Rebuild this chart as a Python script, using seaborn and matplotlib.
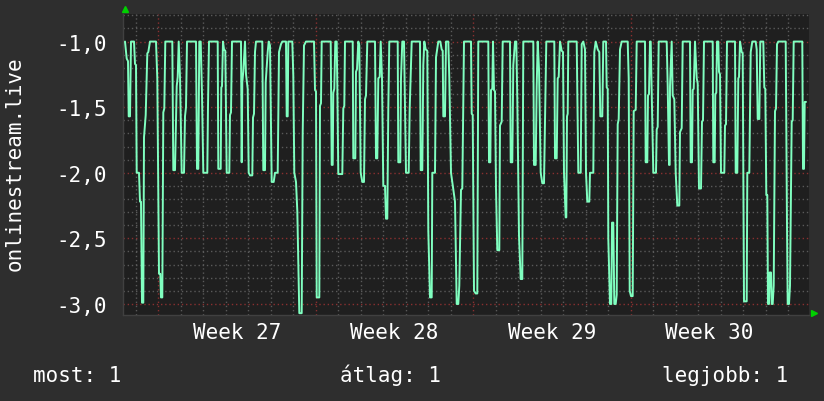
import matplotlib
matplotlib.use("Agg")
import matplotlib.pyplot as plt
import matplotlib.transforms as mtransforms
import numpy as np
import pandas as pd
import seaborn as sns

# one step of the series is about 64 minutes (22.5 steps per day)
STEP_H = 24 / 22.5

# sample step index and value
t_step = [
    3, 4.7, 6, 6.7, 8, 9, 12, 13, 14, 14.7, 17, 18, 19, 20, 21.3, 22, 23.7, 25.3, 26.3, 28,
    34, 35.3, 37, 38.3, 39, 40.3, 41.3, 42.3, 43.3, 50.3, 51.3, 53, 54.7, 55.7, 56.7, 58,
    59.7, 62, 63, 64, 65, 74, 75, 76.3, 77.3, 78.7, 80, 81.3, 85.3, 86, 87,
    95.7, 96.3, 98.7, 99.3, 100, 101, 102, 103.3, 104.7, 107.3, 108, 109, 110, 119, 119.7,
    120.3, 121.3, 123, 124, 125.7, 126.7, 128, 130.3, 131, 132, 133, 134, 140.3, 141.3, 143,
    143.7, 145.7, 146.7, 148, 149.7, 151.7, 153, 155.7, 157, 159, 160.3, 164, 164.7, 165.7,
    166.3, 170.3, 171.3, 172.3,
    174, 175.3, 177.3, 179.7, 180.7, 182, 184, 192, 193, 194, 194.7, 197.3, 198, 199, 199.7,
    208.7, 209.7, 210.7, 211.3, 212.3, 213.3, 214.7, 215.3, 216.3, 220.3, 221.3, 222.3, 223,
    230.7, 231.3, 233.3, 234, 235, 236.3, 237.3, 238.7, 240.3, 242, 243, 244, 245.3, 253,
    254, 255.3, 256.3, 257.7, 258.7, 260, 261.3, 263, 264, 265.3, 266.3, 267.3,
    275.7, 276.3, 278.3, 279, 280.3, 282, 283, 284, 286.7, 287.7, 289.7, 298, 298.7, 300.3,
    301.3, 302.3, 303.7, 305.3, 306.3, 308, 309.7, 310.3, 313, 314, 316.3, 318.3, 319.7,
    320.7, 321.3, 323, 324, 326.3, 327.3, 329, 331.3, 333, 334.7, 336.3, 337.3, 339, 340.3,
    342,
    349, 349.7, 350.7, 352, 353.7, 355.3, 356.3, 366.3, 367, 368.3, 369, 370.3, 371, 372,
    373, 374, 375.3, 377.3, 378, 379.7, 380.7, 388, 388.7, 390.3, 391.3, 393, 394.3, 395.3,
    397, 398.7, 400.3, 401.3, 411.3, 412, 413.7, 414.7, 415.7, 417, 418.7, 420.3, 422, 423,
    424.3,
    432.3, 433, 434.7, 435.7, 436.7, 438, 439.7, 441, 442, 443.7, 444.3, 445, 445.7, 446.3,
    454.7, 456.3, 458.7, 459.7, 461.3, 463, 464, 465.3, 467.3, 468, 471.3, 472.3, 473.7,
    475.7, 477.3, 478.3, 480.3, 481.3, 484, 484.7, 485.7, 486.3, 488, 489.3, 490, 491.3,
    492.3, 493.7, 494.7, 495.7, 496.7, 498, 499.7, 505.7, 506.7, 507.7, 509, 510.7, 511.7,
    513.7, 514.7,
    523, 523.7, 525.3, 526, 527, 528, 528.7, 529.7, 531.3, 534, 534.7, 535.7, 536.7, 544.7,
    545.7, 547, 547.7, 548, 549.7, 550.7, 552.3, 553.7, 555.3, 557.3, 558, 559.7, 560.7, 568,
    568.7, 570, 570.7, 571.7, 573, 574.7, 575.7, 577, 579, 580, 581, 582, 590.7, 591.3,
    592.7, 593.3, 594.3, 595,
    596.3, 597, 598, 599, 602.3, 603, 604, 605, 613, 613.7, 615.3, 616.3, 617, 618, 619.7,
    620.7, 622, 624.7, 625.3, 627.3, 628.7, 630.3, 633.7, 634.7, 635.7, 637.3, 638.3, 641.3,
    642.3, 643.3, 644.3, 645.3, 646, 647, 647.7, 649, 649.7, 650.7, 651.7, 653, 654, 655,
    656.3, 663.7, 665, 665.7, 667, 668, 669.7, 670.7, 671.7, 680.3, 681, 682, 682.7, 684,
]
value = [
    -1.0, -1.13, -1.15, -1.57, -1.57, -1.0, -1.0, -1.17, -1.18, -2.0, -2.0, -2.22, -2.22, -2.99, -2.99, -1.73, -1.56, -1.09, -1.08, -1.0,
    -1.0, -1.28, -2.77, -2.77, -2.95, -2.95, -1.54, -1.51, -1.0, -1.0, -1.98, -1.98, -1.34, -1.27, -1.0, -1.27,
    -2.0, -2.0, -1.57, -1.5, -1.0, -1.0, -1.97, -1.97, -1.0, -1.0, -1.40, -2.0, -2.0, -1.49, -1.0,
    -1.0, -1.97, -1.97, -1.35, -1.34, -1.0, -1.06, -1.07, -2.0, -2.0, -1.56, -1.54, -1.0, -1.0, -1.92,
    -1.31, -1.23, -1.0, -1.25, -1.36, -2.0, -2.02, -2.02, -1.58, -1.55, -1.08, -1.0, -1.0, -1.98, -1.98,
    -1.31, -1.08, -1.0, -1.03, -2.07, -2.07, -2.0, -2.0, -1.08, -1.02, -1.0, -1.0, -1.57, -1.57,
    -1.0, -1.0, -1.26, -2.0,
    -2.07, -2.29, -3.07, -3.07, -1.70, -1.03, -1.0, -1.0, -1.37, -1.38, -2.95, -2.95, -1.49, -1.47, -1.0,
    -1.0, -1.94, -1.94, -1.39, -1.36, -1.0, -1.0, -1.32, -2.01, -2.01, -1.51, -1.49, -1.0,
    -1.0, -1.89, -1.89, -1.23, -1.21, -1.0, -1.03, -2.0, -2.07, -2.07, -1.44, -1.41, -1.0, -1.0,
    -1.89, -1.89, -1.28, -1.27, -1.0, -1.28, -2.10, -2.10, -2.35, -2.35, -1.51, -1.0,
    -1.0, -1.92, -1.92, -1.28, -1.0, -1.0, -1.51, -2.0, -2.0, -1.51, -1.0, -1.0, -1.98, -1.98,
    -1.18, -1.0, -1.06, -1.07, -2.44, -2.95, -2.95, -2.0, -2.0, -1.12, -1.0, -1.0, -1.06,
    -1.07, -1.57, -1.57, -1.0, -1.0, -1.28, -2.0, -2.13, -2.22, -3.0, -3.0, -2.86, -2.13, -2.12,
    -1.0,
    -1.0, -1.55, -1.56, -2.90, -2.92, -2.92, -1.0, -1.0, -1.92, -1.92, -1.37, -1.36, -1.0, -1.37,
    -1.38, -2.12, -2.59, -2.59, -1.64, -1.61, -1.0, -1.0, -1.92, -1.92, -1.18, -1.0, -1.0, -1.44,
    -2.48, -2.81, -2.81, -1.0, -1.0, -1.94, -1.94, -1.34, -1.0, -1.21, -2.0, -2.08, -2.08, -1.61,
    -1.0,
    -1.0, -1.89, -1.89, -1.28, -1.27, -1.0, -1.07, -1.08, -2.0, -2.34, -2.34, -1.57, -1.55, -1.0,
    -1.0, -2.0, -2.0, -1.02, -1.0, -1.06, -2.0, -2.22, -2.22, -2.0, -2.0, -1.08, -1.0,
    -1.06, -1.08, -1.57, -1.57, -1.0, -1.0, -1.35, -1.36, -2.5, -3.0, -3.0, -2.38, -2.38,
    -3.0, -3.0, -2.93, -1.63, -1.59, -1.06, -1.0, -1.0, -1.28, -2.9, -2.94, -2.94, -1.53,
    -1.52, -1.0,
    -1.0, -1.92, -1.92, -1.41, -1.40, -1.0, -1.0, -1.39, -2.0, -2.0, -1.67, -1.65, -1.0, -1.0,
    -1.34, -1.94, -1.94, -1.34, -1.0, -1.41, -1.44, -2.0, -2.25, -2.25, -1.69, -1.66, -1.0, -1.0,
    -1.92, -1.92, -1.37, -1.36, -1.0, -1.28, -1.32, -2.12, -2.12, -1.61, -1.60, -1.0, -1.0, -1.92,
    -1.92, -1.40, -1.39, -1.0,
    -1.0, -1.23, -1.25, -2.0, -2.0, -1.64, -1.63, -1.0, -1.0, -2.0, -2.0, -1.28, -1.27, -1.0, -1.08,
    -1.09, -2.98, -2.98, -2.0, -2.0, -1.08, -1.0, -1.0, -1.06, -1.59, -1.59, -1.0, -1.0,
    -1.35, -1.36, -2.17, -2.17, -3.0, -3.0, -2.76, -2.76, -3.0, -3.0, -2.86, -1.53, -1.51, -1.02,
    -1.0, -1.0, -2.4, -3.0, -3.0, -2.86, -1.61, -1.60, -1.0, -1.0, -1.97, -1.97, -1.46, -1.46,
]

week_labels = ["Week 27", "Week 28", "Week 29", "Week 30"]
week27_start_h = 38.4          # hours after series start
y_ticks = [-3.0, -2.5, -2.0, -1.5, -1.0]
series_name = "onlinestream.live"
legend_items = [("most", 1), ("átlag", 1), ("legjobb", 1)]

BG = "#2e2e2e"
PLOT_BG = "#1f1f1f"
LINE = "#80ffc0"
GRID_MINOR = "#5a5a5a"
GRID_MAJOR = "#8a3030"

sns.set_theme(style="dark", rc={
    "figure.facecolor": BG,
    "axes.facecolor": PLOT_BG,
    "text.color": "white",
    "xtick.color": "white",
    "ytick.color": "white",
})
plt.rcParams["font.family"] = ["DejaVu Sans Mono", "DejaVu Sans"]

df = pd.DataFrame({"hours": np.array(t_step) * STEP_H, "value": value})

fig = plt.figure(figsize=(8.24, 4.02), dpi=100)
ax = fig.add_axes([123 / 824, 1 - 316 / 402, 686 / 824, 301 / 402])

sns.lineplot(data=df, x="hours", y="value", ax=ax, color=LINE, lw=1.4,
             estimator=None, sort=False, zorder=3)

x_min, x_max = 1 * STEP_H, 687 * STEP_H
ax.set_xlim(x_min, x_max)
ax.set_ylim(-3.084, -0.79)

week_starts = [week27_start_h + 168 * i for i in range(len(week_labels))]
day_lines = np.arange(week27_start_h - 24, x_max, 24)
ax.set_xticks(week_starts)
ax.set_xticks(day_lines, minor=True)
ax.set_xticklabels([])
ax.set_yticks(y_ticks)
ax.set_yticks(np.arange(-3.0, -0.75, 0.1), minor=True)
ax.set_yticklabels([f"{v:.1f}".replace(".", ",") for v in y_ticks], fontsize=15)
ax.tick_params(axis="both", which="both", length=0)
ax.tick_params(axis="y", pad=11.5)
ax.set_xlabel("")
ax.set_ylabel("")

ax.grid(True, which="minor", color=GRID_MINOR, lw=1, ls=(0, (1, 2)))
ax.grid(True, which="major", color=GRID_MAJOR, lw=1, ls=(0, (1, 2)))
ax.set_axisbelow(True)

for side in ["top", "right"]:
    ax.spines[side].set_visible(False)
for side in ["left", "bottom"]:
    ax.spines[side].set_color("#404040")
    ax.spines[side].set_linewidth(1)

# week labels centred in each week
trans = mtransforms.blended_transform_factory(ax.transData, ax.transAxes)
for ws, lab in zip(week_starts, week_labels):
    ax.text(ws + 84, -0.076, lab, transform=trans, ha="center", va="baseline",
            fontsize=15, color="white")

# little green arrows at the axis ends
ax.plot([0.003], [1.016], marker="^", ms=5, color="#00d000", mec="#00d000",
        transform=ax.transAxes, clip_on=False)
ax.plot([1.007], [0.005], marker=">", ms=5, color="#00d000", mec="#00d000",
        transform=ax.transAxes, clip_on=False)

fig.text(15 / 824, 1 - 164 / 402, series_name, rotation=90, ha="center",
         va="center", fontsize=15, color="white")

legend_x = [33, 340, 662]
for lx, (name, val) in zip(legend_x, legend_items):
    fig.text(lx / 824, 1 - 382 / 402, f"{name}: {val}", ha="left", va="baseline",
             fontsize=15, color="white")

fig.savefig("out.png", dpi=100, facecolor=fig.get_facecolor())
